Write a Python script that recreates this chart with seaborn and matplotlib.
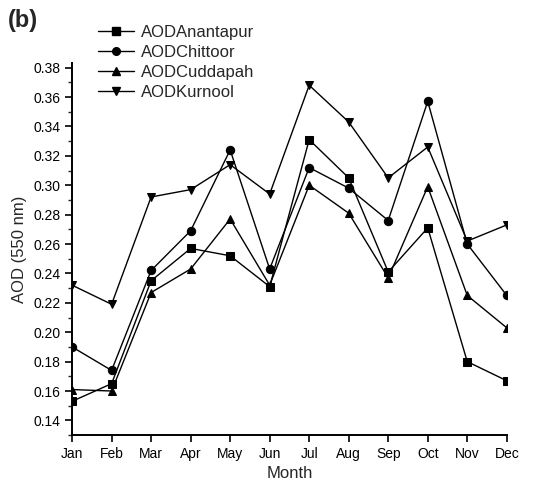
import pandas as pd
import numpy as np
import matplotlib
matplotlib.use("Agg")
import matplotlib.pyplot as plt
import seaborn as sns
from matplotlib.ticker import MultipleLocator
from matplotlib.lines import Line2D

months = ["Jan", "Feb", "Mar", "Apr", "May", "Jun", "Jul", "Aug", "Sep", "Oct", "Nov", "Dec"]
anantapur = [0.153, 0.165, 0.235, 0.257, 0.252, 0.231, 0.331, 0.305, 0.241, 0.271, 0.180, 0.167]
chittoor = [0.190, 0.174, 0.242, 0.269, 0.324, 0.243, 0.312, 0.298, 0.276, 0.357, 0.260, 0.225]
cuddapah = [0.161, 0.160, 0.227, 0.243, 0.277, 0.232, 0.300, 0.281, 0.237, 0.299, 0.225, 0.203]
kurnool = [0.232, 0.219, 0.292, 0.297, 0.314, 0.294, 0.368, 0.343, 0.305, 0.326, 0.262, 0.273]
series_names = ["AODAnantapur", "AODChittoor", "AODCuddapah", "AODKurnool"]
marker_list = ["s", "o", "^", "v"]

frames = []
for name, vals in zip(series_names, [anantapur, chittoor, cuddapah, kurnool]):
    frames.append(pd.DataFrame({"Month": np.arange(len(months)), "AOD": vals, "site": name}))
df = pd.concat(frames, ignore_index=True)

sns.set_style("ticks")
plt.rcParams["font.family"] = ["Liberation Sans", "DejaVu Sans"]

fig = plt.figure(figsize=(5.42, 4.9), dpi=100)
ax = fig.add_axes([0.133, 0.112, 0.802, 0.759])

sns.lineplot(data=df, x="Month", y="AOD", hue="site", style="site",
             palette=["black"] * 4, markers=marker_list, dashes=False,
             markersize=6, linewidth=1.0, markeredgecolor="black",
             ax=ax, legend=False)

ax.set_xlim(0, 11)
ax.set_ylim(0.13, 0.383)
ax.set_xticks(range(12))
ax.set_xticklabels(months)
ax.yaxis.set_major_locator(MultipleLocator(0.02))
ax.yaxis.set_minor_locator(MultipleLocator(0.01))
ax.yaxis.set_major_formatter(matplotlib.ticker.FormatStrFormatter("%.2f"))
ax.tick_params(axis="both", which="major", direction="out", length=5, width=1.2, labelsize=10, colors="black")
ax.tick_params(axis="y", which="minor", direction="out", length=3, width=1.0)
for s in ["top", "right"]:
    ax.spines[s].set_visible(False)
for s in ["left", "bottom"]:
    ax.spines[s].set_linewidth(1.4)
    ax.spines[s].set_color("black")
ax.set_xlabel("Month", fontsize=12)
ax.set_ylabel("AOD (550 nm)", fontsize=12)

handles = [Line2D([], [], color="black", marker=m, markersize=5.5, linewidth=1.0)
           for m in marker_list]
fig.legend(handles, series_names, loc="upper left", bbox_to_anchor=(0.168, 0.962),
           frameon=False, fontsize=12, handlelength=2.2, handletextpad=0.4,
           labelspacing=0.29, borderaxespad=0)

fig.text(0.015, 0.945, "(b)", fontsize=17, fontweight="bold")

fig.savefig("out.png", dpi=100)
